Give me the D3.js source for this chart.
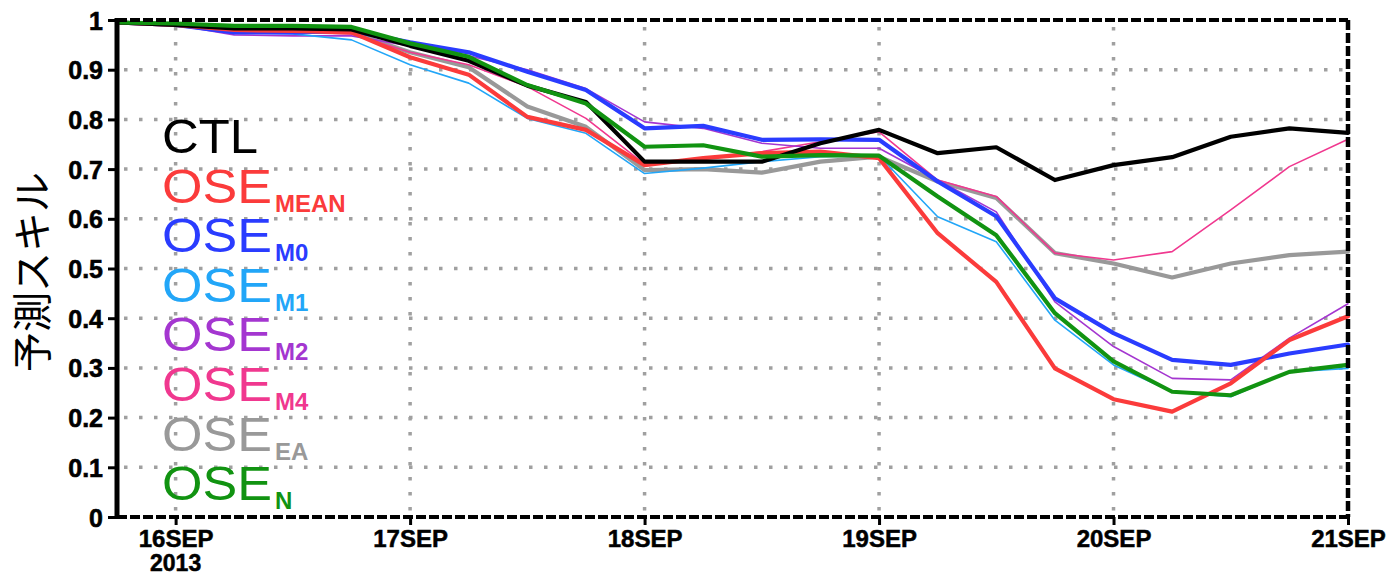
<!DOCTYPE html>
<html><head><meta charset="utf-8">
<script src="https://cdn.jsdelivr.net/npm/d3@7"></script>
<style>
body{margin:0;background:#fff;}
svg{display:block;}
.tick text{font-family:"Liberation Sans",Arial,sans-serif;font-weight:bold;fill:#000;}
</style></head><body>
<svg id="chart" width="1386" height="577"></svg>
<script>
// ---- data (6-hourly, 15SEP18Z .. 21SEP00Z) ----
const times = ["2013-09-15T18:00Z","2013-09-16T00:00Z","2013-09-16T06:00Z","2013-09-16T12:00Z","2013-09-16T18:00Z",
  "2013-09-17T00:00Z","2013-09-17T06:00Z","2013-09-17T12:00Z","2013-09-17T18:00Z",
  "2013-09-18T00:00Z","2013-09-18T06:00Z","2013-09-18T12:00Z","2013-09-18T18:00Z",
  "2013-09-19T00:00Z","2013-09-19T06:00Z","2013-09-19T12:00Z","2013-09-19T18:00Z",
  "2013-09-20T00:00Z","2013-09-20T06:00Z","2013-09-20T12:00Z","2013-09-20T18:00Z","2013-09-21T00:00Z"];
const ctl     = [0.995,0.99,0.983,0.983,0.981,0.948,0.918,0.868,0.835,0.715,0.715,0.715,0.752,0.779,0.732,0.744,0.678,0.708,0.724,0.765,0.782,0.773];
const oseMean = [0.995,0.99,0.98,0.978,0.975,0.925,0.89,0.805,0.779,0.708,0.722,0.732,0.735,0.722,0.571,0.473,0.299,0.237,0.212,0.269,0.356,0.404];
const oseM0   = [0.995,0.99,0.975,0.975,0.978,0.955,0.935,0.896,0.859,0.782,0.787,0.759,0.760,0.759,0.675,0.605,0.44,0.37,0.316,0.306,0.329,0.347];
const oseM1   = [0.995,0.99,0.975,0.972,0.96,0.91,0.873,0.802,0.772,0.691,0.702,0.715,0.725,0.727,0.604,0.554,0.396,0.306,0.252,0.242,0.292,0.299];
const oseM2   = [0.995,0.99,0.97,0.968,0.968,0.948,0.928,0.9,0.862,0.795,0.782,0.752,0.742,0.742,0.678,0.614,0.433,0.343,0.279,0.276,0.36,0.429];
const oseM4   = [0.995,0.99,0.975,0.975,0.972,0.935,0.91,0.866,0.802,0.71,0.72,0.735,0.755,0.775,0.678,0.645,0.531,0.517,0.534,0.618,0.705,0.76];
const oseEA   = [0.995,0.99,0.978,0.978,0.975,0.935,0.905,0.826,0.785,0.698,0.70,0.693,0.715,0.725,0.675,0.642,0.531,0.51,0.482,0.51,0.527,0.534];
const oseN    = [0.995,0.993,0.988,0.988,0.986,0.953,0.926,0.869,0.832,0.745,0.748,0.725,0.728,0.727,0.645,0.567,0.41,0.313,0.252,0.245,0.292,0.306];

const xTickDates  = ["2013-09-16T00:00Z","2013-09-17T00:00Z","2013-09-18T00:00Z","2013-09-19T00:00Z","2013-09-20T00:00Z","2013-09-21T00:00Z"];
const xTickLabels = ["16SEP","17SEP","18SEP","19SEP","20SEP","21SEP"];
const yTicks      = [0,0.1,0.2,0.3,0.4,0.5,0.6,0.7,0.8,0.9,1];
const yTickLabels = ["0","0.1","0.2","0.3","0.4","0.5","0.6","0.7","0.8","0.9","1"];
const legendMain  = ["CTL","OSE","OSE","OSE","OSE","OSE","OSE","OSE"];
const legendSub   = ["","MEAN","M0","M1","M2","M4","EA","N"];
const yTitle = "予測スキル";

// ---- series styling ----
const series = [
  {key:"EA",   values:oseEA,   color:"#999999", w:4.2},
  {key:"M4",   values:oseM4,   color:"#f0388f", w:1.6},
  {key:"M2",   values:oseM2,   color:"#a436d0", w:1.6},
  {key:"M1",   values:oseM1,   color:"#22a6f8", w:1.6},
  {key:"M0",   values:oseM0,   color:"#2a3cff", w:4.2},
  {key:"MEAN", values:oseMean, color:"#fb3b3b", w:4.2},
  {key:"CTL",  values:ctl,     color:"#000000", w:4.2},
  {key:"N",    values:oseN,    color:"#119311", w:4.2}
];
const legendColors = ["#000000","#fb3b3b","#2a3cff","#22a6f8","#a436d0","#f0388f","#999999","#119311"];

const svg = d3.select("#chart");
const L = 117, R = 1348, T = 20, B = 517;
const parse = d3.utcParse("%Y-%m-%dT%H:%MZ");
const dates = times.map(parse);
const x = d3.scaleUtc().domain([parse("2013-09-15T18:00Z"), parse("2013-09-21T00:00Z")]).range([L, R]);
const y = d3.scaleLinear().domain([0,1]).range([B, T]);

// grid
const grid = svg.append("g").attr("stroke","#a0a0a0").attr("stroke-width",3.5).attr("stroke-dasharray","3.5,11.5");
grid.selectAll("line.h").data(yTicks.slice(1,-1)).join("line")
  .attr("x1",L+7).attr("x2",R).attr("y1",d=>y(d)).attr("y2",d=>y(d));
grid.selectAll("line.v").data(xTickDates.slice(0,-1).map(parse)).join("line")
  .attr("x1",d=>x(d)).attr("x2",d=>x(d)).attr("y1",T+7).attr("y2",B);

// lines
const line = d3.line().x((d,i)=>x(dates[i])).y(d=>y(d));
svg.append("g").selectAll("path").data(series).join("path")
  .attr("d",d=>line(d.values)).attr("fill","none")
  .attr("stroke",d=>d.color).attr("stroke-width",d=>d.w)
  .attr("stroke-linejoin","round").attr("stroke-linecap","round");

// frame
svg.append("line").attr("x1",L).attr("x2",R).attr("y1",T).attr("y2",T)
  .attr("stroke","#000").attr("stroke-width",4).attr("stroke-dasharray","10,3");
svg.append("line").attr("x1",L).attr("x2",R+2).attr("y1",B).attr("y2",B)
  .attr("stroke","#000").attr("stroke-width",4).attr("stroke-dasharray","10,3");
svg.append("line").attr("x1",R).attr("x2",R).attr("y1",T).attr("y2",B)
  .attr("stroke","#000").attr("stroke-width",4.5).attr("stroke-dasharray","10,3");

// y axis
const yAxis = d3.axisLeft(y).tickValues(yTicks).tickFormat((d,i)=>yTickLabels[i]).tickSize(9).tickPadding(5);
const gy = svg.append("g").attr("transform",`translate(${L},0)`).call(yAxis);
gy.select(".domain").attr("stroke","#000").attr("stroke-width",5).attr("d",`M0,${T-2}V${B+2}`);
gy.selectAll(".tick line").attr("stroke","#000").attr("stroke-width",3);
gy.selectAll(".tick text").attr("font-size",25).attr("dy","0.36em").attr("stroke","#000").attr("stroke-width",0.6);

// x axis
const xAxis = d3.axisBottom(x).tickValues(xTickDates.map(parse)).tickFormat((d,i)=>xTickLabels[i]).tickSize(8).tickPadding(5);
const gx = svg.append("g").attr("transform",`translate(0,${B})`).call(xAxis);
gx.select(".domain").remove();
gx.selectAll(".tick line").attr("stroke","#000").attr("stroke-width",3);
gx.selectAll(".tick text").attr("font-size",24).attr("stroke","#000").attr("stroke-width",0.5);
gx.append("text").attr("x",x(parse(xTickDates[0]))).attr("y",54)
  .attr("text-anchor","middle").attr("font-family","Liberation Sans, Arial, sans-serif")
  .attr("font-weight","bold").attr("font-size",23).attr("stroke","#000").attr("stroke-width",0.5)
  .attr("fill","#000").text("2013");

// y title
svg.append("text").attr("transform","translate(30,272) rotate(-90)")
  .attr("text-anchor","middle").attr("dominant-baseline","central")
  .attr("font-family","Noto Sans CJK JP, sans-serif").attr("font-size",40).attr("fill","#000").text(yTitle);

// legend
const lg = svg.append("g");
legendMain.forEach((m,i)=>{
  const t = lg.append("text").attr("x",162).attr("y",153 + i*49.6)
    .attr("fill",legendColors[i]).attr("font-family","Liberation Sans, Arial, sans-serif");
  t.append("tspan").attr("font-size",49).attr("textLength", i===0?96:110).attr("lengthAdjust","spacingAndGlyphs").text(m);
  if (legendSub[i]) t.append("tspan").attr("font-size",24).attr("font-weight","bold").attr("dx",3).attr("dy",9).text(legendSub[i]);
});
</script>
</body></html>
